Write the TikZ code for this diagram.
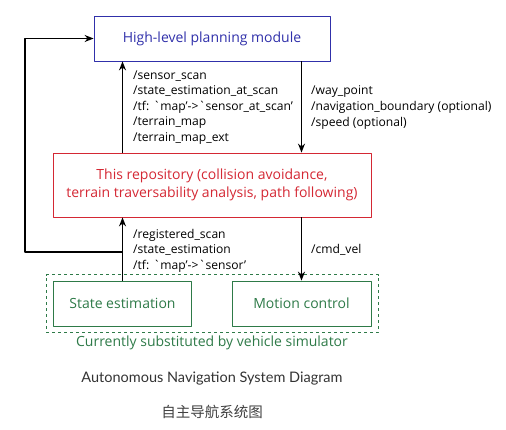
\documentclass[tikz,border=0pt]{standalone}
\usepackage{fontspec}
\setmainfont{Open Sans}
\newfontfamily\capfont{Lato}
\newfontfamily\cjk{Noto Sans CJK SC}
\usetikzlibrary{arrows.meta,fit}
\definecolor{plannerblue}{RGB}{48,48,170}
\definecolor{repored}{RGB}{212,40,52}
\definecolor{simgreen}{RGB}{46,122,72}
\begin{document}
\begin{tikzpicture}[x=1pt, y=-1pt, line join=round, >={Stealth[length=9pt,width=7pt]}, font=\fontsize{12.1}{15.6}\selectfont]
    \tikzset{box/.style={draw=#1, text=#1, line width=0.8pt, inner sep=0pt, align=center, font=\fontsize{14}{18.5}\selectfont},
             flow/.style={->, line width=1.3pt},
             topics/.style={anchor=west, align=left, inner sep=2pt}}
    \def\bq{\textasciigrave}
    \useasboundingbox (0,0) rectangle (506,430);
				% modules
				\node[box=plannerblue, minimum width=236pt, minimum height=45pt] (hl) at (212,38.5) {High-level planning module};
				\node[box=repored, minimum width=318pt, minimum height=64pt] (repo) at (212,185) {This repository (collision avoidance,\\terrain traversability analysis, path following)};
				\node[box=simgreen, minimum width=138pt, minimum height=45pt] (se) at (122.5,303.5) {State estimation};
				\node[box=simgreen, minimum width=139pt, minimum height=45pt] (mc) at (301.5,303.5) {Motion control};
				\node[draw=simgreen, dashed, line width=0.8pt, fit=(se)(mc), inner xsep=7pt, inner ysep=6pt] (sim) {};
				\node[text=simgreen, font=\fontsize{14}{16}\selectfont] (simlabel) at (212,343) {Currently substituted by vehicle simulator};
				% connectors
				\coordinate (loop) at (25,252);
				\draw[flow] (se.north) -- (se.north |- repo.south);
				\draw[flow] (se.north |- repo.north) -- (se.north |- hl.south);
				\draw[flow] (mc.north |- hl.south) -- (mc.north |- repo.north);
				\draw[flow] (mc.north |- repo.south) -- (mc.north);
				\draw[flow] (se.north |- loop) -- (loop) |- (hl.west);
				% topics
				\node[topics] (uptopics) at (131,107.5) {/sensor\_scan\\/state\_estimation\_at\_scan\\/tf: \bq map'->\bq sensor\_at\_scan'\\/terrain\_map\\/terrain\_map\_ext};
				\node[topics] (downtopics) at (309,107.5) {/way\_point\\/navigation\_boundary (optional)\\/speed (optional)};
				\node[topics] (statetopics) at (131,250.5) {/registered\_scan\\/state\_estimation\\/tf: \bq map'->\bq sensor'};
				\node[topics] (cmdtopic) at (309,250) {/cmd\_vel};
				% captions
				\node[font=\capfont\fontsize{14.5}{17}\selectfont, text=black!80] (caption) at (212,379) {Autonomous Navigation System Diagram};
				\node[font=\cjk\fontsize{14.5}{17}\selectfont, text=black!75] (cncaption) at (212,412) {自主导航系统图};
    \end{tikzpicture}
\end{document}
